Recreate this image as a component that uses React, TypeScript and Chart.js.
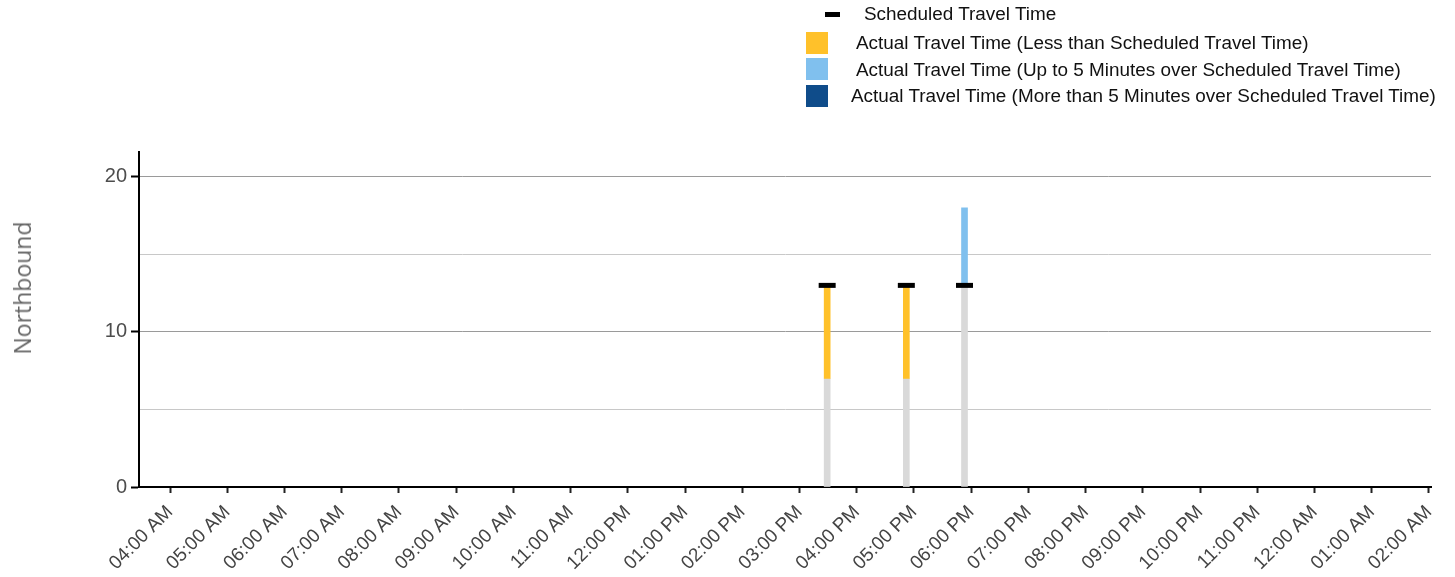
import React, { useEffect, useRef } from "react";
import { Chart, registerables } from "chart.js";

Chart.register(...registerables);

// ---- Data ----
const tripStartTimes = ["15:29", "16:52", "17:53"];
const scheduledTravelMinutes = [13, 13, 13];
const actualTravelMinutes = [7, 7, 18];

const xTickLabels = [
  "04:00 AM", "05:00 AM", "06:00 AM", "07:00 AM", "08:00 AM", "09:00 AM",
  "10:00 AM", "11:00 AM", "12:00 PM", "01:00 PM", "02:00 PM", "03:00 PM",
  "04:00 PM", "05:00 PM", "06:00 PM", "07:00 PM", "08:00 PM", "09:00 PM",
  "10:00 PM", "11:00 PM", "12:00 AM", "01:00 AM", "02:00 AM",
];
const firstTickHour = 4;
const yGridValues = [0, 5, 10, 15, 20];
const yLabelValues = [0, 10, 20];

const legendLabels = [
  "Scheduled Travel Time",
  "Actual Travel Time (Less than Scheduled Travel Time)",
  "Actual Travel Time (Up to 5 Minutes over Scheduled Travel Time)",
  "Actual Travel Time (More than 5 Minutes over Scheduled Travel Time)",
];

// ---- Styles ----
const COLORS = {
  base: "#d9d9d9",
  less: "#ffc12a",
  up5: "#80c0ee",
  more5: "#0f4c8a",
  sched: "#000000",
};
const FONT = "'Liberation Sans', Arial, sans-serif";
const X_MIN = 3.458;
const X_MAX = 26.035;
const Y_MAX = 21.6;

function toHours(t: string): number {
  const [h, m] = t.split(":").map(Number);
  return h + m / 60;
}

export default function App() {
  const canvasRef = useRef<HTMLCanvasElement | null>(null);

  useEffect(() => {
    if (!canvasRef.current) return;
    const xs = tripStartTimes.map(toHours);
    const base = xs.map((x, i) => ({
      x,
      y: [0, Math.min(actualTravelMinutes[i], scheduledTravelMinutes[i])],
    }));
    const less: any[] = [];
    const up5: any[] = [];
    const more5: any[] = [];
    xs.forEach((x, i) => {
      const a = actualTravelMinutes[i];
      const s = scheduledTravelMinutes[i];
      const seg = { x, y: [Math.min(a, s), Math.max(a, s)] };
      if (a < s) less.push(seg);
      else if (a - s <= 5) up5.push(seg);
      else more5.push(seg);
    });
    const sched = xs.map((x, i) => ({ x, y: scheduledTravelMinutes[i] }));

    const barCommon = {
      type: "bar" as const,
      barThickness: 6,
      grouped: false,
      borderWidth: 0,
      order: 2,
    };

    const chart = new Chart(canvasRef.current, {
      type: "bar",
      data: {
        datasets: [
          {
            type: "scatter",
            label: legendLabels[0],
            data: sched,
            pointStyle: "line",
            pointRadius: 8.5,
            pointHoverRadius: 8.5,
            borderWidth: 5,
            pointBorderWidth: 5,
            borderColor: COLORS.sched,
            backgroundColor: COLORS.sched,
            order: 0,
          } as any,
          { ...barCommon, label: legendLabels[1], data: less, backgroundColor: COLORS.less, order: 1 } as any,
          { ...barCommon, label: legendLabels[2], data: up5, backgroundColor: COLORS.up5, order: 1 } as any,
          { ...barCommon, label: legendLabels[3], data: more5, backgroundColor: COLORS.more5, order: 1 } as any,
          { ...barCommon, label: "Base", data: base, backgroundColor: COLORS.base, order: 2 } as any,
        ],
      },
      options: {
        animation: false,
        responsive: false,
        devicePixelRatio: 1,
        events: [],
        layout: { padding: { left: 0, right: 24, top: 152, bottom: 0 } },
        plugins: {
          legend: { display: false },
          tooltip: { enabled: false },
        },
        scales: {
          x: {
            type: "linear",
            min: X_MIN,
            max: X_MAX,
            offset: false,
            afterBuildTicks: (s: any) => {
              s.ticks = xTickLabels.map((_, i) => ({ value: firstTickHour + i }));
            },
            afterFit: (s: any) => {
              s.height = 90;
            },
            ticks: {
              autoSkip: false,
              maxRotation: 45,
              minRotation: 45,
              padding: 8,
              color: "#444444",
              font: { family: FONT, size: 19 },
              callback: (v: any) => xTickLabels[Math.round(Number(v)) - firstTickHour] ?? "",
            },
            grid: {
              offset: false,
              drawOnChartArea: false,
              drawTicks: true,
              tickLength: 6,
              tickWidth: 2,
              tickColor: "#222222",
            },
            border: { display: true, color: "#000000", width: 2 },
          },
          y: {
            type: "linear",
            min: 0,
            max: Y_MAX,
            afterBuildTicks: (s: any) => {
              s.ticks = yGridValues.map((v) => ({ value: v }));
            },
            afterFit: (s: any) => {
              s.width = 139;
            },
            ticks: {
              padding: 4,
              color: "#4d4d4d",
              font: { family: FONT, size: 20 },
              callback: (v: any) => (yLabelValues.includes(Number(v)) ? String(v) : ""),
            },
            grid: {
              lineWidth: 1,
              color: (ctx: any) =>
                ctx.tick && yLabelValues.includes(ctx.tick.value) ? "#9a9a9a" : "#c8c8c8",
              tickLength: 8,
              tickWidth: 2,
              tickColor: (ctx: any) =>
                ctx.tick && yLabelValues.includes(ctx.tick.value) ? "#000000" : "rgba(0,0,0,0)",
            },
            border: { display: true, color: "#000000", width: 2 },
          },
        },
      },
    });
    return () => chart.destroy();
  }, []);

  const legendText: React.CSSProperties = {
    position: "absolute",
    fontFamily: FONT,
    fontSize: "18.9px",
    lineHeight: "22px",
    color: "#111111",
    whiteSpace: "nowrap",
  };

  return (
    <div
      style={{
        position: "fixed",
        left: 0,
        top: 0,
        width: 1455,
        height: 577,
        background: "#ffffff",
        overflow: "hidden",
      }}
    >
      <canvas ref={canvasRef} width={1455} height={577} style={{ position: "absolute", left: 0, top: 0 }} />
      {/* Legend */}
      <div style={{ position: "absolute", left: 825, top: 12, width: 15, height: 5, background: COLORS.sched }} />
      <div style={{ ...legendText, left: 864, top: 3 }}>{legendLabels[0]}</div>

      <div style={{ position: "absolute", left: 806, top: 32, width: 22, height: 22, background: COLORS.less }} />
      <div style={{ ...legendText, left: 856, top: 32 }}>{legendLabels[1]}</div>

      <div style={{ position: "absolute", left: 806, top: 58, width: 22, height: 22, background: COLORS.up5 }} />
      <div style={{ ...legendText, left: 856, top: 59 }}>{legendLabels[2]}</div>

      <div style={{ position: "absolute", left: 806, top: 85, width: 22, height: 22, background: COLORS.more5 }} />
      <div style={{ ...legendText, left: 851, top: 85 }}>{legendLabels[3]}</div>

      {/* Y axis title */}
      <div
        style={{
          position: "absolute",
          left: 22,
          top: 288,
          transform: "translate(-50%, -50%) rotate(-90deg)",
          fontFamily: "'Open Sans', sans-serif",
          fontSize: "23px",
          color: "#666666",
          whiteSpace: "nowrap",
        }}
      >
        Northbound
      </div>
    </div>
  );
}
